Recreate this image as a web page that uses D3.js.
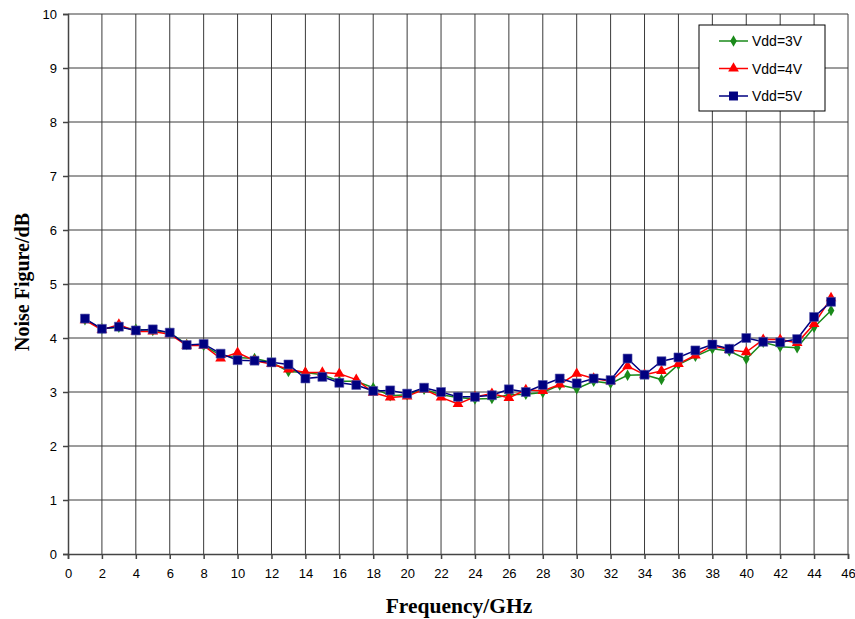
<!DOCTYPE html>
<html>
<head>
<meta charset="utf-8">
<script src="https://cdn.jsdelivr.net/npm/d3@7"></script>
<style>
  body { margin: 0; background: #fff; }
  svg { display: block; }
  .tick text { font-family: "Liberation Sans", Arial, sans-serif; font-size: 13px; fill: #000; }
</style>
</head>
<body>
<div id="chart"></div>
<script>
var freq = [1,2,3,4,5,6,7,8,9,10,11,12,13,14,15,16,17,18,19,20,21,22,23,24,25,26,27,28,29,30,31,32,33,34,35,36,37,38,39,40,41,42,43,44,45];

var nf3 = [4.34,4.17,4.20,4.16,4.14,4.10,3.88,3.86,3.68,3.64,3.62,3.55,3.38,3.36,3.32,3.20,3.20,3.08,2.93,2.95,3.05,2.95,2.90,2.87,2.88,2.95,2.96,2.99,3.13,3.06,3.20,3.16,3.31,3.32,3.23,3.51,3.66,3.80,3.76,3.61,3.92,3.84,3.82,4.20,4.51];
var nf4 = [4.33,4.15,4.25,4.12,4.12,4.07,3.86,3.86,3.62,3.73,3.58,3.52,3.42,3.36,3.36,3.34,3.23,2.99,2.90,2.92,3.05,2.90,2.78,2.91,2.97,2.89,3.04,3.02,3.14,3.34,3.25,3.20,3.48,3.32,3.39,3.52,3.68,3.86,3.78,3.74,3.97,3.97,3.91,4.26,4.74];
var nf5 = [4.36,4.17,4.21,4.14,4.16,4.10,3.87,3.89,3.71,3.59,3.58,3.55,3.51,3.25,3.28,3.17,3.13,3.02,3.03,2.97,3.08,3.00,2.91,2.91,2.94,3.05,3.00,3.13,3.25,3.16,3.25,3.22,3.62,3.32,3.57,3.64,3.77,3.88,3.80,4.00,3.93,3.92,3.98,4.39,4.67];

var seriesNames = ["Vdd=3V", "Vdd=4V", "Vdd=5V"];
var seriesColors = ["#1a8a1a", "#ff0000", "#000080"];
var seriesShapes = [d3.symbolDiamond, d3.symbolTriangle, d3.symbolSquare];
var seriesSizes = [38, 50, 80];

var xTicks = d3.range(0, 47, 2);
var yTicks = d3.range(0, 11, 1);

var W = 855, H = 619;
var margin = {left: 68, right: 7, top: 14, bottom: 65};

var svg = d3.select("#chart")
            .append("svg")
            .attr("width", W)
            .attr("height", H)

var x = d3.scaleLinear().domain([0, 46]).range([margin.left, W - margin.right]);
var y = d3.scaleLinear().domain([0, 10]).range([H - margin.bottom, margin.top]);

// grid
svg.append("g")
    .selectAll("line")
    .data(xTicks.slice(1))
    .enter()
    .append("line")
    .attr("x1", function(d) { return x(d); })
    .attr("x2", function(d) { return x(d); })
    .attr("y1", y(0))
    .attr("y2", y(10))
    .style("stroke", "#3a3a3a")
    .style("stroke-width", 1)

svg.append("g")
    .selectAll("line")
    .data(yTicks.slice(1))
    .enter()
    .append("line")
    .attr("x1", x(0))
    .attr("x2", x(46))
    .attr("y1", function(d) { return y(d); })
    .attr("y2", function(d) { return y(d); })
    .style("stroke", "#3a3a3a")
    .style("stroke-width", 1)

// axes
var xAxis = svg.append("g")
    .attr("transform", "translate(0," + y(0) + ")")
    .call(d3.axisBottom(x).tickValues(xTicks).tickSize(5).tickPadding(10))
var yAxis = svg.append("g")
    .attr("transform", "translate(" + x(0) + ",0)")
    .call(d3.axisLeft(y).tickValues(yTicks).tickSize(5).tickPadding(6))

xAxis.selectAll("path, line").style("stroke", "#444").style("stroke-width", 1.5)
yAxis.selectAll("path, line").style("stroke", "#444").style("stroke-width", 1.5)

// series
var allSeries = [nf3, nf4, nf5];
var line = d3.line()
    .x(function(d, i) { return x(freq[i]); })
    .y(function(d) { return y(d); })

allSeries.forEach(function(vals, k) {
    svg.append("path")
        .datum(vals)
        .attr("d", line)
        .style("fill", "none")
        .style("stroke", seriesColors[k])
        .style("stroke-width", 1.5)

    svg.append("g")
        .selectAll("path")
        .data(vals)
        .enter()
        .append("path")
        .attr("transform", function(d, i) { return "translate(" + x(freq[i]) + "," + y(d) + ")"; })
        .attr("d", d3.symbol().type(seriesShapes[k]).size(seriesSizes[k]))
        .style("fill", seriesColors[k])
        .style("stroke", k == 2 ? "#5555aa" : "none")
        .style("stroke-width", 0.6)
})

// legend
var legend = svg.append("g").attr("transform", "translate(699,25)")
legend.append("rect")
    .attr("width", 126)
    .attr("height", 86)
    .style("fill", "white")
    .style("stroke", "#000")
    .style("stroke-width", 1)

seriesNames.forEach(function(name, k) {
    var ly = 16 + k * 27.5;
    legend.append("line")
        .attr("x1", 20).attr("x2", 49)
        .attr("y1", ly).attr("y2", ly)
        .style("stroke", seriesColors[k])
        .style("stroke-width", 1.5)
    legend.append("path")
        .attr("transform", "translate(34.5," + ly + ")")
        .attr("d", d3.symbol().type(seriesShapes[k]).size(seriesSizes[k]))
        .style("fill", seriesColors[k])
    legend.append("text")
        .attr("x", 53)
        .attr("y", ly)
        .attr("dy", "0.36em")
        .style("font-family", "Liberation Sans, Arial, sans-serif")
        .style("font-size", "14px")
        .text(name)
})

// axis titles
svg.append("text")
    .attr("x", 459)
    .attr("y", 613)
    .attr("text-anchor", "middle")
    .style("font-family", "Liberation Serif, Times New Roman, serif")
    .style("font-weight", "bold")
    .style("font-size", "21.5px")
    .text("Frequency/GHz")

svg.append("text")
    .attr("transform", "translate(28.5,282) rotate(-90)")
    .attr("text-anchor", "middle")
    .style("font-family", "Liberation Serif, Times New Roman, serif")
    .style("font-weight", "bold")
    .style("font-size", "20px")
    .text("Noise Figure/dB")
</script>
</body>
</html>
